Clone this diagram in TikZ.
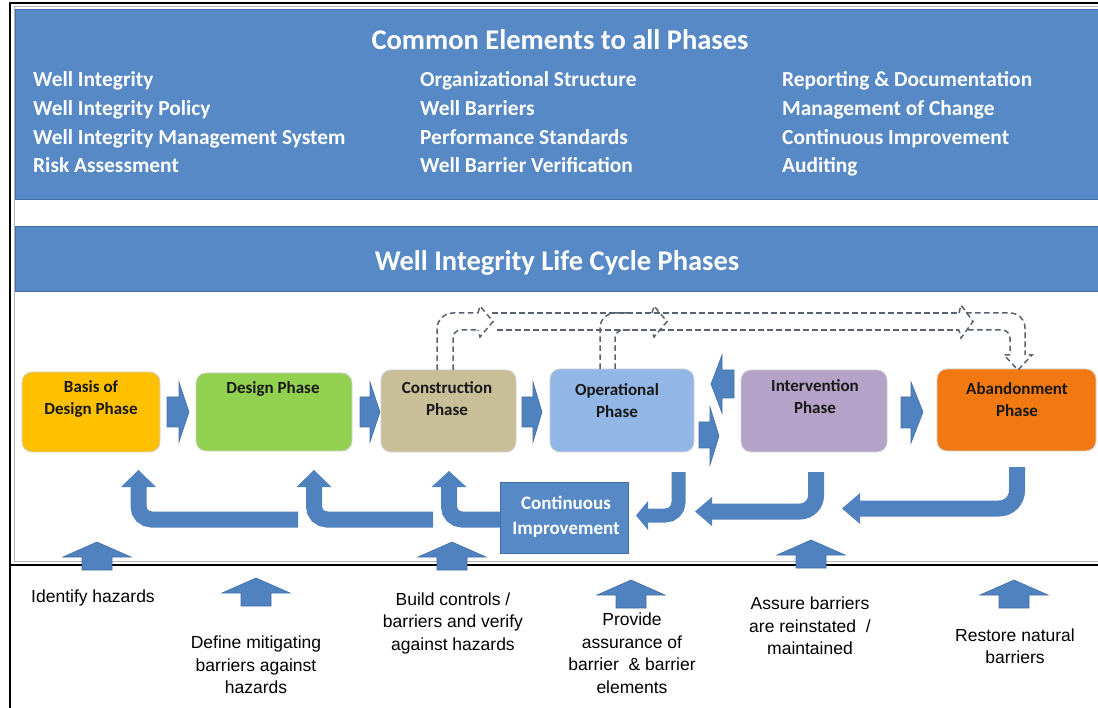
\documentclass[tikz,border=0pt]{standalone}
\usepackage{fontspec}
\setmainfont{Carlito}
\newfontfamily\arialf{Liberation Sans}
\definecolor{bannerblue}{RGB}{86,137,197}
\definecolor{bannerline}{RGB}{68,110,165}
\definecolor{arrowblue}{RGB}{80,130,192}
\definecolor{arrowline}{RGB}{66,110,166}
\definecolor{basisc}{RGB}{255,192,0}
\definecolor{designc}{RGB}{146,208,80}
\definecolor{constrc}{RGB}{200,190,152}
\definecolor{operc}{RGB}{146,183,230}
\definecolor{interc}{RGB}{180,162,200}
\definecolor{abandc}{RGB}{242,121,18}
\definecolor{dashc}{RGB}{88,98,112}
\definecolor{boxtext}{RGB}{24,24,24}
\begin{document}
\begin{tikzpicture}[x=1pt,y=-1pt,
  banner/.style={fill=bannerblue,draw=bannerline,line width=1pt},
  bigtitle/.style={text=white,font=\bfseries\fontsize{28.5}{34}\selectfont,inner sep=0pt},
  listitem/.style={text=white,font=\bfseries\fontsize{21.4}{25}\selectfont,anchor=base west,inner sep=0pt},
  phasebox/.style={rounded corners=10pt,draw=white!82!black,line width=0.8pt,inner sep=0pt},
  phasetext/.style={text=boxtext,font=\bfseries\fontsize{17}{22}\selectfont,align=center,inner sep=0pt},
  blockarrow/.style={fill=arrowblue,draw=arrowline,line width=0.6pt},
  bentarrow/.style={draw=arrowblue,line width=16pt,rounded corners=13pt},
  dashline/.style={draw=dashc,line width=1.5pt,dash pattern=on 5.5pt off 3.5pt},
  bottomtext/.style={font=\arialf\fontsize{17.5}{22.5}\selectfont,align=center,inner sep=0pt,text=black}
]
\useasboundingbox (0,0) rectangle (1098,708);
\fill[white] (0,0) rectangle (1098,708);

% frame
\draw[gray!60,line width=1pt] (1100,7) -- (14,7) -- (14,561) -- (1100,561);
\draw[black,line width=2pt] (10,708) -- (10,3) -- (1100,3);
\draw[black,line width=1.5pt] (10,565) -- (1100,565);

% banners
\path[banner] (15,10) rectangle (1104,200);
\path[banner] (15,227) rectangle (1104,292);
\node[bigtitle] (t1) at (560,40) {Common Elements to all Phases};
\node[bigtitle] (t2) at (557,263) {Well Integrity Life Cycle Phases};

\node[listitem] (a1) at (33,87)  {Well Integrity};
\node[listitem] (a2) at (33,116) {Well Integrity Policy};
\node[listitem] (a3) at (33,145) {Well Integrity Management System};
\node[listitem] (a4) at (33,173) {Risk Assessment};
\node[listitem] (b1) at (420,87)  {Organizational Structure};
\node[listitem] (b2) at (420,116) {Well Barriers};
\node[listitem] (b3) at (420,145) {Performance Standards};
\node[listitem] (b4) at (420,173) {Well Barrier Verification};
\node[listitem] (c1) at (782,87)  {Reporting \& Documentation};
\node[listitem] (c2) at (782,116) {Management of Change};
\node[listitem] (c3) at (782,145) {Continuous Improvement};
\node[listitem] (c4) at (782,173) {Auditing};

% phase boxes
\node[phasebox,fill=basisc,minimum width=138pt,minimum height=80pt] (basis) at (91,412) {};
\node[phasebox,fill=designc,minimum width=156pt,minimum height=78pt] (design) at (274,412) {};
\node[phasebox,fill=constrc,minimum width=135pt,minimum height=82pt] (constr) at (448.5,411) {};
\node[phasebox,fill=operc,minimum width=144pt,minimum height=83pt] (oper) at (622,410.5) {};
\node[phasebox,fill=interc,minimum width=146pt,minimum height=82pt] (inter) at (814,411) {};
\node[phasebox,fill=abandc,minimum width=159pt,minimum height=82pt] (aband) at (1016.5,410) {};

\node[phasetext] (basist) at (91,399) {Basis of\\Design Phase};
\node[phasetext] (designt) at (273,389) {Design Phase};
\node[phasetext] (constrt) at (447,399) {Construction\\Phase};
\node[phasetext] (opert) at (617,401) {Operational\\Phase};
\node[phasetext] (intert) at (815,397) {Intervention\\Phase};
\node[phasetext] (abandt) at (1017,400) {Abandonment\\Phase};

% horizontal block arrows
\path[blockarrow] (167,397)--(179,397)--(179,382)--(189,412)--(179,442)--(179,427)--(167,427)--cycle;
\path[blockarrow] (360,397)--(370,397)--(370,382)--(380,412)--(370,442)--(370,427)--(360,427)--cycle;
\path[blockarrow] (522,397)--(533,397)--(533,382)--(542,412)--(533,442)--(533,427)--(522,427)--cycle;
\path[blockarrow] (699,422)--(710,422)--(710,407)--(719,436)--(710,465)--(710,448)--(699,448)--cycle;
\path[blockarrow] (734,370)--(722,370)--(722,355)--(711,384)--(722,413)--(722,398)--(734,398)--cycle;
\path[blockarrow] (901,397)--(911,397)--(911,382)--(923,412)--(911,443)--(911,428)--(901,428)--cycle;

% continuous improvement
\node[fill=bannerblue,draw=bannerline,line width=0.8pt,minimum width=128pt,minimum height=71pt,inner sep=0pt] (ci) at (564,517.5) {};
\node[text=white,font=\bfseries\fontsize{19}{25}\selectfont,align=center,inner sep=0pt] (cit) at (566,517) {Continuous\\Improvement};

% bent arrows (up)
\draw[bentarrow] (298,519.5) -- (138.5,519.5) -- (138.5,486);
\path[blockarrow,draw=none] (121,487)--(138.5,470)--(156,487)--cycle;
\draw[bentarrow] (433,519.5) -- (314,519.5) -- (314,486);
\path[blockarrow,draw=none] (296.5,487)--(314,470)--(331.5,487)--cycle;
\draw[bentarrow] (500,519.5) -- (449,519.5) -- (449,486);
\path[blockarrow,draw=none] (431.5,487)--(449,471)--(466.5,487)--cycle;

% bent arrows (down-left)
\draw[bentarrow,line width=14pt] (678.5,472) -- (678.5,515.5) -- (647,515.5);
\path[blockarrow,draw=none] (648,501)--(636,515.5)--(648,530)--cycle;
\draw[bentarrow,line width=16pt,rounded corners=16pt] (816,472) -- (816,511.5) -- (711,511.5);
\path[blockarrow,draw=none] (712,497)--(695,511.5)--(712,526)--cycle;
\draw[bentarrow,line width=16pt,rounded corners=18pt] (1017,467) -- (1017,508.5) -- (859,508.5);
\path[blockarrow,draw=none] (860,493)--(842,508.5)--(860,524)--cycle;

% dashed arrows
\draw[dashline,rounded corners=16pt] (437,370) -- (437,313) -- (478,313);
\draw[dashline,rounded corners=8pt] (453,370) -- (453,330) -- (478,330);
\draw[dashline] (478,313) -- (480,306) -- (493,321.5) -- (480,337) -- (478,330);
\draw[dashline] (492,313) -- (959,313);
\draw[dashline] (497,330) -- (959,330);
\draw[dashline,rounded corners=15pt] (600,369) -- (600,313) -- (630,313);
\draw[dashline,rounded corners=8pt] (615,369) -- (615,330) -- (630,330);
\draw[dashline] (652,313) -- (654,306) -- (667,321.5) -- (654,337) -- (652,330);
\draw[dashline] (959,313) -- (961,305) -- (973,321.5) -- (961,338) -- (959,330);
\draw[dashline,rounded corners=15pt] (966,313) -- (1025,313) -- (1025,355);
\draw[dashline,rounded corners=8pt] (968,330) -- (1010,330) -- (1010,355);
\draw[dashline] (1010,355) -- (1004,355) -- (1018,370) -- (1032,355) -- (1025,355);

% bottom up arrows
\foreach \cx/\ty [count=\i] in {97/542, 256/578, 452/542, 631/580, 811/540, 1014/580}{
  \path[blockarrow] ({\cx-15},{\ty+28}) -- ({\cx-15},{\ty+15}) -- ({\cx-34},{\ty+15}) -- (\cx,\ty) -- ({\cx+34},{\ty+15}) -- ({\cx+15},{\ty+15}) -- ({\cx+15},{\ty+28}) -- cycle;
}

% bottom texts
\node[bottomtext] (d1) at (93,598) {Identify hazards};
\node[bottomtext] (d2) at (256,665) {Define mitigating\\barriers against\\hazards};
\node[bottomtext] (d3) at (453,623) {Build controls /\\barriers and verify\\against hazards};
\node[bottomtext] (d4) at (632,653) {Provide\\assurance of\\barrier \ \& barrier\\elements};
\node[bottomtext] (d5) at (810,626) {Assure barriers\\are reinstated \ /\\maintained};
\node[bottomtext] (d6) at (1015,646) {Restore natural\\barriers};
\end{tikzpicture}
\end{document}
